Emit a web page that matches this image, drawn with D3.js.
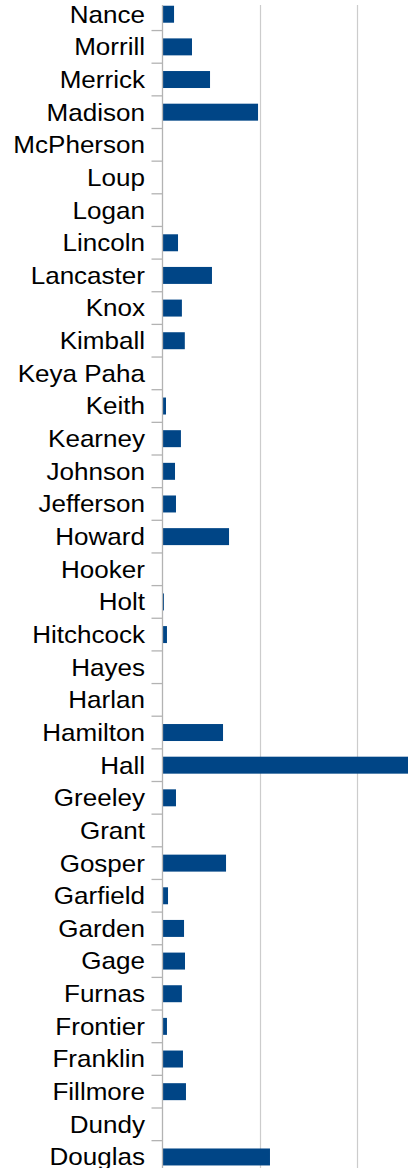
<!DOCTYPE html>
<html>
<head>
<meta charset="utf-8">
<script src="https://cdn.jsdelivr.net/npm/d3@7"></script>
<style>
  html, body { margin: 0; padding: 0; background: #fff; overflow: hidden; }
  svg { display: block; }
</style>
</head>
<body>
<svg id="chart" width="408" height="1168"></svg>
<script>
const categories = ["Nance","Morrill","Merrick","Madison","McPherson","Loup","Logan","Lincoln","Lancaster","Knox","Kimball","Keya Paha","Keith","Kearney","Johnson","Jefferson","Howard","Hooker","Holt","Hitchcock","Hayes","Harlan","Hamilton","Hall","Greeley","Grant","Gosper","Garfield","Garden","Gage","Furnas","Frontier","Franklin","Fillmore","Dundy","Douglas"];
const values = [1.19,3.04,4.9,9.85,0,0,0,1.6,5.1,2.0,2.3,0,0.36,1.9,1.29,1.39,6.86,0,0.15,0.46,0,0,6.24,25.4,1.39,0,6.55,0.57,2.22,2.32,2.0,0.46,2.11,2.42,0,11.08];
const gridTicks = [0,10,20,30];

const W = 408, H = 1168;
const left = 162.5;
const unit = 97; // px per 10 units
const svg = d3.select("#chart");

const x = d3.scaleLinear().domain([0, 30]).range([left, left + 3 * unit]);
const step = 32.65;
const y0 = -2.1;
const y = d3.scaleBand().domain(categories)
  .range([y0, y0 + categories.length * step])
  .paddingInner(0.48).paddingOuter(0.24);

const plotTop = 5;

// gridlines
svg.append("g").selectAll("line").data(gridTicks.filter(d => d > 0)).join("line")
  .attr("x1", d => Math.round(x(d)) + 0.5).attr("x2", d => Math.round(x(d)) + 0.5)
  .attr("y1", plotTop).attr("y2", H)
  .attr("stroke", "#cccccc").attr("stroke-width", 1.2);

// bars
svg.append("g").selectAll("rect").data(categories).join("rect")
  .attr("x", x(0))
  .attr("y", d => y(d))
  .attr("width", (d, i) => x(values[i]) - x(0))
  .attr("height", y.bandwidth())
  .attr("fill", "#004586");

// axis line
svg.append("line")
  .attr("x1", left).attr("x2", left)
  .attr("y1", plotTop).attr("y2", H)
  .attr("stroke", "#b3b3b3").attr("stroke-width", 1.3);

// tick marks at category boundaries
const gap = (y.step() - y.bandwidth()) / 2;
svg.append("g").selectAll("line").data(categories.slice(1)).join("line")
  .attr("x1", left - 11).attr("x2", left)
  .attr("y1", d => y(d) - gap).attr("y2", d => y(d) - gap)
  .attr("stroke", "#b3b3b3").attr("stroke-width", 1.3);

// labels
svg.append("g").selectAll("text").data(categories).join("text")
  .attr("transform", d => `translate(145,${y(d) + y.bandwidth() / 2}) scale(1.085,1)`)
  .attr("dy", "0.35em")
  .attr("text-anchor", "end")
  .attr("font-family", "'Liberation Sans', Arial, sans-serif")
  .attr("font-size", 24)
  .attr("fill", "#000")
  .text(d => d);
</script>
</body>
</html>
